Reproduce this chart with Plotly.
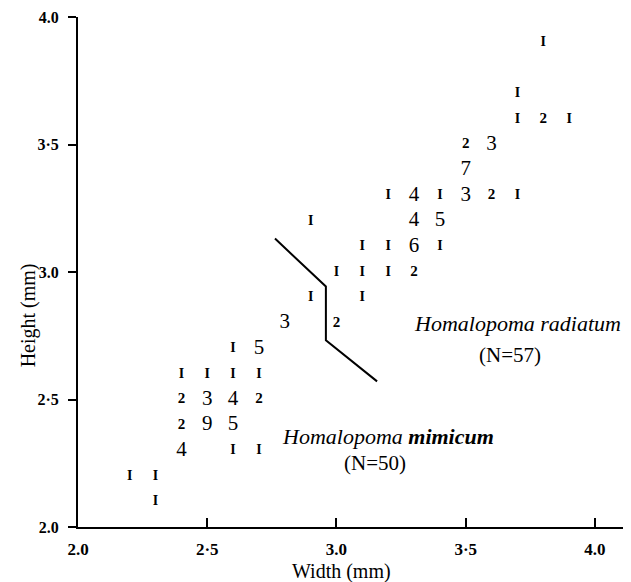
import plotly.graph_objects as go

# ---- data: Homalopoma mimicum (width, height, count) ----
mim_width = [2.3, 2.2, 2.3, 2.4, 2.6, 2.7, 2.4, 2.5, 2.6, 2.4, 2.5, 2.6, 2.7,
             2.4, 2.5, 2.6, 2.7, 2.6, 2.7, 2.8, 2.9]
mim_height = [2.1, 2.2, 2.2, 2.3, 2.3, 2.3, 2.4, 2.4, 2.4, 2.5, 2.5, 2.5, 2.5,
              2.6, 2.6, 2.6, 2.6, 2.7, 2.7, 2.8, 2.9]
mim_count = [1, 1, 1, 4, 1, 1, 2, 9, 5, 2, 3, 4, 2,
             1, 1, 1, 1, 1, 5, 3, 1]

# ---- data: Homalopoma radiatum (width, height, count) ----
rad_width = [3.0, 3.1, 3.0, 3.1, 3.2, 3.3, 3.1, 3.2, 3.3, 3.4, 2.9, 3.3, 3.4,
             3.2, 3.3, 3.4, 3.5, 3.6, 3.7, 3.5, 3.5, 3.6, 3.7, 3.8, 3.9, 3.7, 3.8]
rad_height = [2.8, 2.9, 3.0, 3.0, 3.0, 3.0, 3.1, 3.1, 3.1, 3.1, 3.2, 3.2, 3.2,
              3.3, 3.3, 3.3, 3.3, 3.3, 3.3, 3.4, 3.5, 3.5, 3.6, 3.6, 3.6, 3.7, 3.9]
rad_count = [2, 1, 1, 1, 1, 2, 1, 1, 6, 1, 1, 4, 5,
             1, 4, 1, 3, 2, 1, 7, 2, 3, 1, 2, 1, 1, 1]

# ---- dividing line between the two species ----
div_width = [2.762, 2.959, 2.959, 3.157]
div_height = [3.131, 2.943, 2.732, 2.571]

# ---- axis ticks ----
x_tickvals = [2.0, 2.5, 3.0, 3.5, 4.0]
x_ticktext = ["2.0", "2·5", "3.0", "3·5", "4.0"]
y_tickvals = [2.0, 2.5, 3.0, 3.5, 4.0]
y_ticktext = ["2.0", "2·5", "3.0", "3·5", "4.0"]

FONT = "Liberation Serif, Times New Roman, serif"


def label(n):
    return "I" if n == 1 else str(n)


def add_counts(fig, xs, ys, ns):
    groups = {
        "one": ([], [], [], 14, True),
        "two": ([], [], [], 15, True),
        "big": ([], [], [], 21, False),
    }
    for x, y, n in zip(xs, ys, ns):
        key = "one" if n == 1 else ("two" if n == 2 else "big")
        groups[key][0].append(x)
        groups[key][1].append(y)
        groups[key][2].append(label(n))
    for key, (gx, gy, gt, size, bold) in groups.items():
        if not gx:
            continue
        fig.add_trace(go.Scatter(
            x=gx, y=gy, mode="text",
            text=[f"<b>{t}</b>" if bold else t for t in gt],
            textposition="middle center",
            textfont=dict(family=FONT, size=size, color="black"),
            hoverinfo="skip", showlegend=False,
        ))


fig = go.Figure()
add_counts(fig, mim_width, mim_height, mim_count)
add_counts(fig, rad_width, rad_height, rad_count)

fig.add_trace(go.Scatter(
    x=div_width, y=div_height, mode="lines",
    line=dict(color="black", width=2),
    hoverinfo="skip", showlegend=False,
))

annotations = [
    dict(x=3.70, y=2.80, text="<i>Homalopoma radiatum</i>", showarrow=False,
         font=dict(family=FONT, size=22, color="black")),
    dict(x=3.67, y=2.675, text="(N=57)", showarrow=False,
         font=dict(family=FONT, size=21, color="black")),
    dict(x=3.20, y=2.355, text="<i>Homalopoma <b>mimicum</b></i>", showarrow=False,
         font=dict(family=FONT, size=22, color="black")),
    dict(x=3.15, y=2.25, text="(N=50)", showarrow=False,
         font=dict(family=FONT, size=21, color="black")),
    dict(x=3.02, xref="x", y=0, yref="paper", yshift=-44, yanchor="middle",
         text="Width (mm)", showarrow=False,
         font=dict(family=FONT, size=20, color="black")),
    dict(x=0, xref="paper", xshift=-50, xanchor="center", y=2.83, yref="y",
         yanchor="middle", textangle=-90,
         text="Height (mm)", showarrow=False,
         font=dict(family=FONT, size=20, color="black")),
]

# the page body adds an 8px offset, so margins are reduced accordingly
fig.update_layout(
    width=631, height=582,
    margin=dict(l=70, r=13, t=9, b=63),
    paper_bgcolor="white", plot_bgcolor="white",
    showlegend=False,
    annotations=annotations,
    xaxis=dict(
        range=[2.0, 4.12], showgrid=False, zeroline=False, automargin=False,
        showline=True, linecolor="black", linewidth=2,
        ticks="inside", ticklen=9, tickwidth=1.5, tickcolor="black",
        tickvals=x_tickvals, ticktext=x_ticktext,
        tickfont=dict(family=FONT, size=17, color="black", weight="bold"),
        ticklabelstandoff=6, ticklabeloverflow="allow",
    ),
    yaxis=dict(
        range=[2.0, 4.0], showgrid=False, zeroline=False, automargin=False,
        showline=True, linecolor="black", linewidth=2,
        ticks="outside", ticklen=8, tickwidth=1.5, tickcolor="black",
        tickvals=y_tickvals, ticktext=y_ticktext,
        tickfont=dict(family=FONT, size=16, color="black", weight="bold"),
        ticklabelstandoff=6, ticklabeloverflow="allow",
    ),
)

fig.write_html("out.html")
